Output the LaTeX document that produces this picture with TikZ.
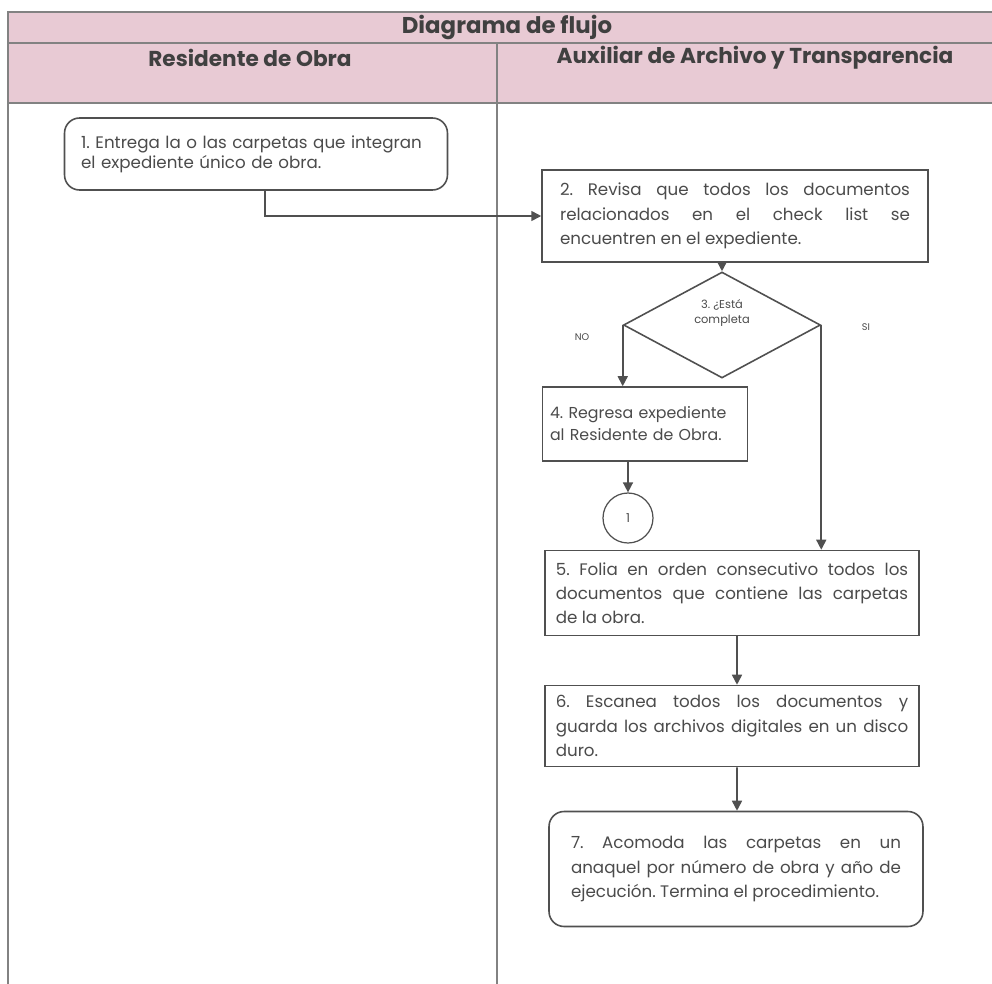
\documentclass[tikz,border=0pt]{standalone}
\usepackage{fontspec}
\setmainfont{Poppins}
\usetikzlibrary{arrows.meta,positioning,calc,shapes.geometric}
\definecolor{cabrosa}{RGB}{232,202,212}
\definecolor{lineagris}{RGB}{80,80,80}
\definecolor{tablagris}{RGB}{130,130,130}
\definecolor{textogris}{RGB}{75,75,75}
\hyphenpenalty=10000
\exhyphenpenalty=10000
\frenchspacing

\begin{document}
\begin{tikzpicture}[x=0.02cm,y=-0.02cm,
  paso/.style={draw=lineagris,line width=0.9pt,text=textogris,align=justify,
    font=\fontsize{9.5}{13.8}\selectfont},
  pasor/.style={paso,rounded corners=0.3cm},
  decision/.style={diamond,draw=lineagris,line width=0.9pt,inner sep=0pt,minimum width=3.94cm,minimum height=2.12cm},
  conector/.style={circle,draw=lineagris,line width=0.7pt,minimum size=1cm,inner sep=0pt,text=textogris,font=\fontsize{7}{8}\selectfont},
  flecha/.style={draw=lineagris,line width=0.9pt,-{Triangle[length=2mm,width=2mm]}},
  rotulo/.style={text=textogris,font=\fontsize{5.5}{6.5}\selectfont},
  encabezado/.style={text=black!75,font=\fontsize{12.3}{14}\selectfont\bfseries}]
\clip (0,0) rectangle (992,984);
\fill[white] (0,0) rectangle (992,984);

% tabla
\fill[cabrosa] (8,12) rectangle (1010,103);
\draw[tablagris,line width=1.3pt] (1010,12) -- (8,12) -- (8,984);
\draw[tablagris,line width=1.3pt] (8,43) -- (1010,43);
\draw[tablagris,line width=1pt] (8,103) -- (1010,103);
\draw[tablagris,line width=0.8pt] (497,43) -- (497,984);
\node[encabezado,font=\fontsize{13}{15}\selectfont\bfseries] (titulo) at (507,27) {Diagrama de flujo};
\node[encabezado] (carril1) at (250,58) {Residente de Obra};
\node[encabezado] (carril2) at (755,58) {Auxiliar de Archivo y Transparencia};

% pasos
\node[pasor,align=left,font=\fontsize{9.5}{11.3}\selectfont,text width=7.0cm,minimum width=7.66cm,minimum height=1.44cm] (n1) at (256,154) {1. Entrega la o las carpetas que integran\\el expediente único de obra.};
\node[paso,text width=7.0cm,minimum width=7.72cm,minimum height=1.84cm] (n2) at (735,216) {2. Revisa que todos los documentos\linebreak relacionados en el check list se\linebreak encuentren en el expediente.};
\node[decision] (dec) at (722,325) {};
\node[text=textogris,align=center,font=\fontsize{6.5}{8.5}\selectfont] (dectxt) at (722,313) {3. ¿Está\\completa};
\node[rotulo] (no) at (582,337) {NO};
\node[rotulo] (si) at (866,327) {SI};
\node[paso,align=left,text width=3.8cm,minimum width=4.1cm,minimum height=1.48cm,font=\fontsize{9}{12.5}\selectfont] (n4) at (645,424) {4. Regresa expediente\\al Residente de Obra.};
\node[conector] (c1) at (628,518) {1};
\node[paso,text width=7.05cm,minimum width=7.48cm,minimum height=1.7cm] (n5) at (732,593) {5. Folia en orden consecutivo todos los\linebreak documentos que contiene las carpetas\linebreak de la obra.};
\node[paso,text width=7.05cm,minimum width=7.48cm,minimum height=1.62cm] (n6) at (732,726) {6. Escanea todos los documentos y\linebreak guarda los archivos digitales en un disco\linebreak duro.};
\node[pasor,text width=6.6cm,minimum width=7.48cm,minimum height=2.3cm] (n7) at (736,869) {7. Acomoda las carpetas en un\linebreak anaquel por número de obra y año de\linebreak ejecución. Termina el procedimiento.};

% conexiones
\draw[flecha] ([xshift=0.18cm]n1.south) |- (n2.west);
\draw[flecha] (n2.south -| dec.north) -- (dec.north);
\draw[flecha] (dec.west) -- (dec.west |- n4.north);
\draw[flecha] (n4.south -| c1.north) -- (c1.north);
\draw[flecha] (dec.east) -- (dec.east |- n5.north);
\draw[flecha] ([xshift=0.1cm]n5.south) -- ([xshift=0.1cm]n6.north);
\draw[flecha] ([xshift=0.1cm]n6.south) -- ([xshift=0.02cm]n7.north);
\end{tikzpicture}
\end{document}
